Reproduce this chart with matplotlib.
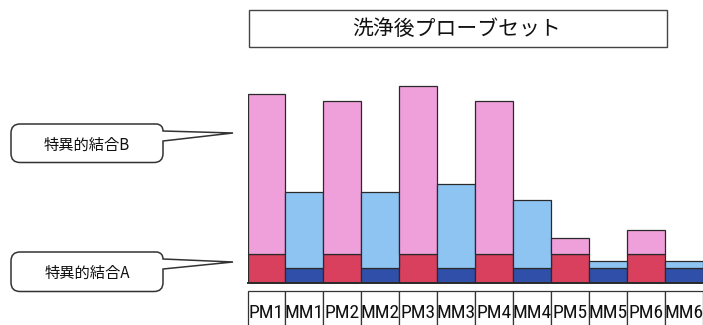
import matplotlib
matplotlib.use("Agg")
import matplotlib.pyplot as plt
from matplotlib.path import Path
from matplotlib.patches import PathPatch, Rectangle
import matplotlib.transforms as mtransforms
from matplotlib import font_manager

categories = ["PM1", "MM1", "PM2", "MM2", "PM3", "MM3",
              "PM4", "MM4", "PM5", "MM5", "PM6", "MM6"]
binding_a = [29.5, 15, 29.5, 15, 29.5, 15, 29.5, 15, 29.5, 15, 29.5, 15]
binding_b = [160, 76, 153, 76, 168, 84, 153, 68, 16, 7.5, 24, 7.5]
title = "洗浄後プローブセット"
callout_b = "特異的結合B"
callout_a = "特異的結合A"

pm_colors = ("#d9405e", "#ef9fd9")   # (A, B) for perfect-match probes
mm_colors = ("#2f4fa9", "#8dc4f2")   # (A, B) for mismatch probes

cjk = ["Noto Sans CJK JP", "DejaVu Sans"]

# pick an upright narrow face for the probe names if one is installed
fonts = font_manager.fontManager.ttflist
label_props = font_manager.FontProperties(family="DejaVu Sans", size=11.5)
narrow = [f for f in fonts if f.name == "Liberation Sans Narrow" and f.style == "normal"
          and f.weight in (400, "normal", "regular")]
if narrow:
    label_props = font_manager.FontProperties(fname=narrow[0].fname, size=14.5)
else:
    for fam in ("Roboto Condensed", "Open Sans Condensed", "Noto Sans",
                "DejaVu Sans", "Roboto", "Open Sans", "Lato", "Inter"):
        hit = [f for f in fonts if f.name == fam and f.style == "normal"
               and f.weight in (400, "normal", "regular")
               and f.stretch in ("condensed", "semi-condensed", 75, 87.5)]
        if hit:
            label_props = font_manager.FontProperties(fname=hit[0].fname, size=14)
            break

W, H = 703, 325
fig = plt.figure(figsize=(W / 100, H / 100), dpi=100)
fig.patch.set_facecolor("white")

# bar area in pixel terms
left_px, right_px, base_px, top_px = 247.5, 703, 283, 80
ax = fig.add_axes([left_px / W, (H - base_px) / H,
                   (right_px - left_px) / W, (base_px - top_px) / H])
ax.set_xlim(-0.5, len(categories) - 0.5)
ax.set_ylim(0, base_px - top_px)
ax.axis("off")

x = list(range(len(categories)))
col_a = [pm_colors[0] if c.startswith("PM") else mm_colors[0] for c in categories]
col_b = [pm_colors[1] if c.startswith("PM") else mm_colors[1] for c in categories]
ax.bar(x, binding_a, width=1.0, color=col_a, edgecolor="#2a2a2a", linewidth=0.9)
ax.bar(x, binding_b, width=1.0, bottom=binding_a, color=col_b,
       edgecolor="#2a2a2a", linewidth=0.9)
ax.axhline(0, color="#2a2a2a", linewidth=1.4, clip_on=False)

# category cells below the bars
ax_h = base_px - top_px
trans = mtransforms.blended_transform_factory(ax.transData, ax.transAxes)
for i, name in enumerate(categories):
    ax.add_patch(Rectangle((i - 0.5, -45 / ax_h), 1.0, 37 / ax_h, transform=trans,
                           facecolor="white", edgecolor="#333333", linewidth=0.9,
                           clip_on=False))
    ax.text(i, -30.5 / ax_h, name, transform=trans, ha="center", va="center",
            color="#111111", fontproperties=label_props)

# overlay in pixel coordinates for title box and callouts
ov = fig.add_axes([0, 0, 1, 1], facecolor="none")
ov.set_xlim(0, W)
ov.set_ylim(H, 0)
ov.axis("off")

ov.add_patch(Rectangle((248.5, 9.5), 418, 37, facecolor="white",
                       edgecolor="#444444", linewidth=1.0))
ov.text(457, 29, title, ha="center", va="center", fontsize=15,
        family=cjk, color="#111111")


def bubble(x0, y0, x1, y1, tip, r=9):
    tx, ty = tip
    verts = [
        (x0 + r, y0),
        (x1 - 6, y0),
        (x1, y0 + 1), (x1, y0 + 7),
        (tx, ty),
        (x1, y0 + 17),
        (x1, y1 - r),
        (x1, y1), (x1 - r, y1),
        (x0 + r, y1),
        (x0, y1), (x0, y1 - r),
        (x0, y0 + r),
        (x0, y0), (x0 + r, y0),
    ]
    codes = [Path.MOVETO, Path.LINETO, Path.CURVE3, Path.CURVE3,
             Path.LINETO, Path.LINETO, Path.LINETO,
             Path.CURVE3, Path.CURVE3, Path.LINETO,
             Path.CURVE3, Path.CURVE3, Path.LINETO,
             Path.CURVE3, Path.CURVE3]
    ov.add_patch(PathPatch(Path(verts, codes), facecolor="white",
                           edgecolor="#333333", linewidth=1.1))


bubble(11, 124, 163, 162.5, (233, 133))
ov.text(87, 145, callout_b, ha="center", va="center", fontsize=11,
        family=cjk, color="#111111")

bubble(11, 252, 163, 291.5, (233, 262))
ov.text(87, 273, callout_a, ha="center", va="center", fontsize=11,
        family=cjk, color="#111111")

fig.savefig("out.png", dpi=100, facecolor="white")
